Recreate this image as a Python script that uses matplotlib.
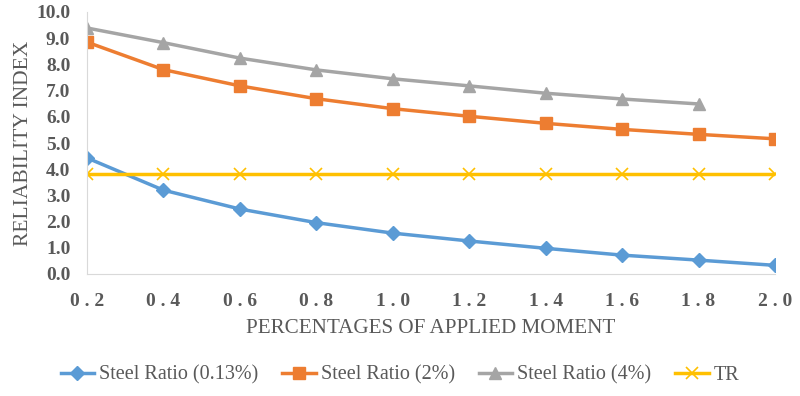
import matplotlib
matplotlib.use("Agg")
import matplotlib.pyplot as plt

moment = [0.2, 0.4, 0.6, 0.8, 1.0, 1.2, 1.4, 1.6, 1.8, 2.0]
ratio_013 = [4.43, 3.2, 2.48, 1.96, 1.56, 1.26, 0.98, 0.72, 0.53, 0.33]
ratio_2 = [8.85, 7.8, 7.18, 6.69, 6.31, 6.02, 5.75, 5.52, 5.33, 5.16]
moment_4 = [0.2, 0.4, 0.6, 0.8, 1.0, 1.2, 1.4, 1.6, 1.8]
ratio_4 = [9.39, 8.83, 8.24, 7.79, 7.45, 7.18, 6.9, 6.68, 6.49]
tr = [3.82] * len(moment)

grey = "#595959"
plt.rcParams['font.family'] = ['Liberation Serif', 'DejaVu Serif']

fig = plt.figure(figsize=(8, 3.96), dpi=100)
ax = fig.add_axes([87 / 800, 1 - 274 / 396, (775 - 87) / 800, (274 - 12) / 396])

ax.plot(moment, ratio_013, color="#5B9BD5", lw=2.5, marker="D", ms=7, label="Steel Ratio (0.13%)")
ax.plot(moment, ratio_2, color="#ED7D31", lw=2.5, marker="s", ms=9, label="Steel Ratio (2%)")
ax.plot(moment_4, ratio_4, color="#A5A5A5", lw=2.5, marker="^", ms=8, label="Steel Ratio (4%)")
ax.plot(moment, tr, color="#FFC000", lw=2.5, marker="x", ms=9, mew=1.2, label="TR")

ax.set_xlim(0.2, 2.0)
ax.set_ylim(0, 10)
ax.set_xticks(moment)
ax.set_xticklabels([" . ".join(f"{m:.1f}".split(".")) for m in moment])
ax.set_yticks(range(11))
ax.set_yticklabels([f"{v:.1f}" for v in range(11)])
for s in ["top", "right"]:
    ax.spines[s].set_visible(False)
for s in ["left", "bottom"]:
    ax.spines[s].set_color("#D9D9D9")
ax.tick_params(length=0, labelsize=14, labelcolor=grey)
ax.tick_params(axis="y", pad=12)
ax.tick_params(axis="x", pad=14)
for lab in ax.get_xticklabels() + ax.get_yticklabels():
    lab.set_fontweight("bold")

ax.set_xlabel("PERCENTAGES OF APPLIED MOMENT", fontsize=15.2, color=grey, labelpad=6)
ax.set_ylabel("RELIABILITY INDEX", fontsize=15.5, color=grey, labelpad=2)

fig.legend(loc="center", bbox_to_anchor=(0.5, 1 - 375 / 396), ncol=4,
           frameon=False, fontsize=14.5, labelcolor=grey, handlelength=1.65,
           columnspacing=1.2, handletextpad=0.25)

fig.savefig("out.png", dpi=100)
